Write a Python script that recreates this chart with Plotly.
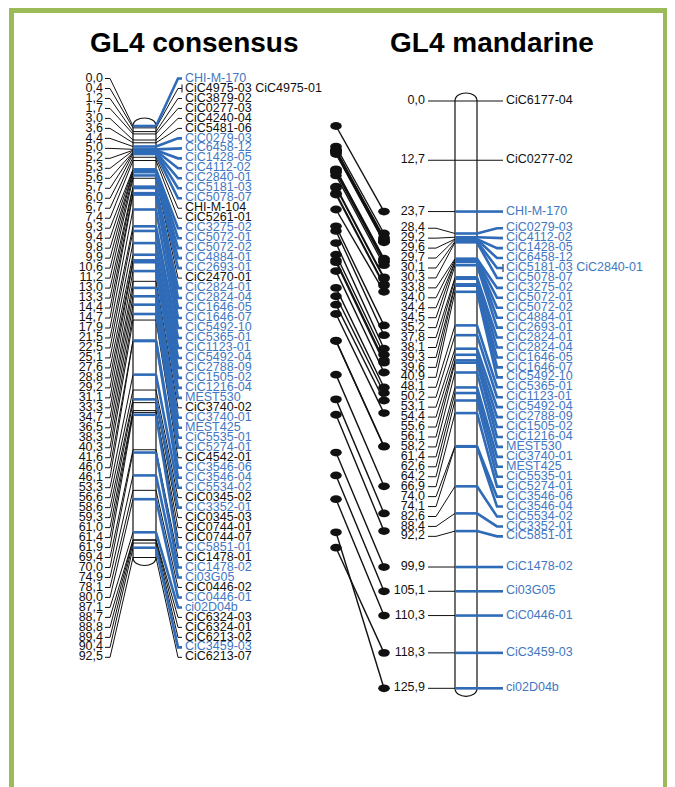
import plotly.graph_objects as go

# ---------------- data ----------------
cons_cm = [0.0, 0.4, 1.2, 1.7, 3.0, 3.6, 4.4, 5.0, 5.2, 5.3, 5.6, 5.7, 6.0, 6.7, 7.4,
           9.3, 9.4, 9.8, 9.9, 10.6, 11.2, 13.0, 13.3, 14.4, 14.7, 17.9, 21.5, 22.5,
           25.1, 27.6, 28.8, 29.2, 31.1, 33.3, 34.7, 36.5, 38.3, 40.3, 41.6, 46.0,
           46.1, 53.3, 56.6, 58.6, 59.3, 61.0, 61.4, 61.9, 69.4, 70.0, 74.9, 78.1,
           80.0, 87.1, 88.7, 88.8, 89.4, 90.4, 92.5]
cons_markers = ["CHI-M-170", "CiC4975-03 CiC4975-01", "CiC3879-02", "CiC0277-03",
                "CiC4240-04", "CiC5481-06", "CiC0279-03", "CiC6458-12", "CiC1428-05",
                "CiC4112-02", "CiC2840-01", "CiC5181-03", "CiC5078-07", "CHI-M-104",
                "CiC5261-01", "CiC3275-02", "CiC5072-01", "CiC5072-02", "CiC4884-01",
                "CiC2693-01", "CiC2470-01", "CiC2824-01", "CiC2824-04", "CiC1646-05",
                "CiC1646-07", "CiC5492-10", "CiC5365-01", "CiC1123-01", "CiC5492-04",
                "CiC2788-09", "CiC1505-02", "CiC1216-04", "MEST530", "CiC3740-02",
                "CiC3740-01", "MEST425", "CiC5535-01", "CiC5274-01", "CiC4542-01",
                "CiC3546-06", "CiC3546-04", "CiC5534-02", "CiC0345-02", "CiC3352-01",
                "CiC0345-03", "CiC0744-01", "CiC0744-07", "CiC5851-01", "CiC1478-01",
                "CiC1478-02", "Ci03G05", "CiC0446-02", "CiC0446-01", "ci02D04b",
                "CiC6324-03", "CiC6324-01", "CiC6213-02", "CiC3459-03", "CiC6213-07"]
mand_cm = [0.0, 12.7, 23.7, 28.4, 29.2, 29.6, 29.7, 30.1, 30.3, 33.8, 34.0, 34.4, 34.5,
           35.2, 37.8, 38.1, 39.3, 39.6, 40.9, 48.1, 50.2, 53.1, 54.4, 55.6, 56.1, 58.2,
           61.4, 62.6, 64.2, 66.9, 74.0, 74.1, 82.6, 88.4, 92.2, 99.9, 105.1, 110.3,
           118.3, 125.9]
mand_markers = ["CiC6177-04", "CiC0277-02", "CHI-M-170", "CiC0279-03", "CiC4112-02",
                "CiC1428-05", "CiC6458-12", "CiC5181-03 CiC2840-01", "CiC5078-07",
                "CiC3275-02", "CiC5072-01", "CiC5072-02", "CiC4884-01", "CiC2693-01",
                "CiC2824-01", "CiC2824-04", "CiC1646-05", "CiC1646-07", "CiC5492-10",
                "CiC5365-01", "CiC1123-01", "CiC5492-04", "CiC2788-09", "CiC1505-02",
                "CiC1216-04", "MEST530", "CiC3740-01", "MEST425", "CiC5535-01",
                "CiC5274-01", "CiC3546-06", "CiC3546-04", "CiC5534-02", "CiC3352-01",
                "CiC5851-01", "CiC1478-02", "Ci03G05", "CiC0446-01", "CiC3459-03",
                "ci02D04b"]
titles = ["GL4 consensus", "GL4 mandarine"]

# ---------------- layout constants (pixels) ----------------
W, H = 675, 787
PAGE = 8             # default page margin around the plot div
S = 4.665            # pixels per cM
MZ = 101.0           # pixel row of 0 cM on the mandarine map
CZ = 126.0           # pixel row of 0 cM on the consensus map
CONS_LABEL_TOP = 78.5
CONS_ROW = 9.98
MAND_ROW = 9.94

BLUE_TXT = "#4277C2"
BLUE_LN = "#2F6BB7"
BLACK = "#111111"
GREEN = "#9BBB59"
FONT = "Liberation Sans, Arial, sans-serif"
FS = 12.5

def ypx(px):
    return (px - MZ) / S

cons_off = (CZ - MZ) / S

# x positions
C_LTXT, C_LX0, C_LX1, C_L, C_R, C_RX1, C_RX0, C_RTXT = 103, 105, 110, 133, 156, 178, 182, 185
M_LTXT, M_LX0, M_LX1, M_L, M_R, M_RX1, M_RX0, M_RTXT = 425, 428, 436, 455, 477, 497, 503, 506
DOT_L, DOT_R = 336, 384

mand_names = set(n for m in mand_markers for n in m.split())
cons_names = set(n for m in cons_markers for n in m.split())
mand_pos = {}
for m, v in zip(mand_markers, mand_cm):
    for n in m.split():
        mand_pos[n] = v

def fmt(v):
    return f"{v:.1f}".replace(".", ",")

def spread(pos, gap):
    groups = [[0]]
    last = pos[0]
    for i in range(1, len(pos)):
        if pos[i] < last + gap:
            last = last + gap
            groups[-1].append(i)
        else:
            last = pos[i]
            groups.append([i])
    while True:
        starts = [(pos[g[0]] + pos[g[-1]]) / 2 - (len(g) - 1) / 2 * gap for g in groups]
        merged = False
        for k in range(len(groups) - 1):
            end = starts[k] + (len(groups[k]) - 1) * gap
            if starts[k + 1] < end + gap - 1e-9:
                groups[k] = groups[k] + groups[k + 1]
                del groups[k + 1]
                merged = True
                break
        if not merged:
            break
    out = [0.0] * len(pos)
    for g, s0 in zip(groups, starts):
        for j, i in enumerate(g):
            out[i] = s0 + j * gap
    return out

# positions on the shared axis
cons_y = [v + cons_off for v in cons_cm]
cons_ly = [ypx(CONS_LABEL_TOP + i * CONS_ROW) for i in range(len(cons_cm))]
mand_y = list(mand_cm)
mand_ly = spread(mand_cm, MAND_ROW / S)

cons_shared = [any(n in mand_names for n in m.split()) for m in cons_markers]
mand_shared = [any(n in cons_names for n in m.split()) for m in mand_markers]

fig = go.Figure()

def chrom_path(xl, xr, yt, yb):
    cap = 8.0 / S
    c = cap / 0.75
    return (f"M {xl},{yt} C {xl},{yt - c} {xr},{yt - c} {xr},{yt} "
            f"L {xr},{yb} C {xr},{yb + c} {xl},{yb + c} {xl},{yb} Z")

shapes = []
shapes.append(dict(type="path", path=chrom_path(C_L, C_R, cons_y[0], cons_y[-1]),
                   xref="x", yref="y", line=dict(color=BLACK, width=1.2),
                   fillcolor="white", layer="below"))
shapes.append(dict(type="path", path=chrom_path(M_L, M_R, mand_y[0], mand_y[-1]),
                   xref="x", yref="y", line=dict(color=BLACK, width=1.2),
                   fillcolor="white", layer="below"))
# frame
shapes.append(dict(type="rect", xref="x", yref="y", x0=11.5, x1=665.5,
                   y0=ypx(10.5), y1=ypx(830), line=dict(color=GREEN, width=5),
                   fillcolor="rgba(0,0,0,0)", layer="below"))

bx, by, ux, uy = [], [], [], []

def add(xs, ys, blue):
    if blue:
        ux.extend(xs + [None]); uy.extend(ys + [None])
    else:
        bx.extend(xs + [None]); by.extend(ys + [None])

for cy, ly, sh in zip(cons_y, cons_ly, cons_shared):
    add([C_LX0, C_LX1, C_L], [ly, ly, cy], False)
    add([C_L, C_R], [cy, cy], sh)
    add([C_R, C_RX1, C_RX0], [cy, ly, ly], sh)
for cy, ly, sh in zip(mand_y, mand_ly, mand_shared):
    add([M_LX0, M_LX1, M_L], [ly, ly, cy], False)
    add([M_L, M_R], [cy, cy], sh)
    add([M_R, M_RX1, M_RX0], [cy, ly, ly], sh)

tick = 4.0 / S
for ly, m in zip(cons_ly, cons_markers):
    if len(m.split()) > 1:
        add([C_RX0, C_RX0], [ly - tick, ly + tick], False)
for ly, m in zip(mand_ly, mand_markers):
    if len(m.split()) > 1:
        add([M_RX0, M_RX0], [ly - tick, ly + tick], False)

fig.add_trace(go.Scatter(x=bx, y=by, mode="lines", line=dict(color=BLACK, width=1),
                         hoverinfo="skip", showlegend=False))
fig.add_trace(go.Scatter(x=ux, y=uy, mode="lines", line=dict(color=BLUE_LN, width=2.6),
                         hoverinfo="skip", showlegend=False))

# comparison links between the two maps
lx, lyy, dxl, dyl = [], [], [], []
for m, cy, sh in zip(cons_markers, cons_y, cons_shared):
    if not sh:
        continue
    for n in m.split():
        if n in mand_pos:
            my = mand_pos[n]
            lx.extend([DOT_L, DOT_R, None]); lyy.extend([cy, my, None])
            dxl.extend([DOT_L, DOT_R]); dyl.extend([cy, my])
fig.add_trace(go.Scatter(x=lx, y=lyy, mode="lines", line=dict(color=BLACK, width=1.4),
                         hoverinfo="skip", showlegend=False))
eh = 3.9 / S
for x, y in zip(dxl, dyl):
    shapes.append(dict(type="circle", xref="x", yref="y", x0=x - 5.8, x1=x + 5.8,
                       y0=y - eh, y1=y + eh, fillcolor=BLACK, line=dict(width=0)))

def text_trace(xs, ys, txt, colors, pos):
    return go.Scatter(x=xs, y=ys, text=txt, mode="text", textposition=pos,
                      textfont=dict(family=FONT, size=FS, color=colors),
                      hoverinfo="skip", showlegend=False)

fig.add_trace(text_trace([C_LTXT] * len(cons_cm), cons_ly, [fmt(v) for v in cons_cm],
                         BLACK, "middle left"))
fig.add_trace(text_trace([C_RTXT] * len(cons_cm), cons_ly, cons_markers,
                         [BLUE_TXT if s else BLACK for s in cons_shared], "middle right"))
fig.add_trace(text_trace([M_LTXT] * len(mand_cm), mand_ly, [fmt(v) for v in mand_cm],
                         BLACK, "middle left"))
fig.add_trace(text_trace([M_RTXT] * len(mand_cm), mand_ly, mand_markers,
                         [BLUE_TXT if s else BLACK for s in mand_shared], "middle right"))

annotations = [
    dict(x=194, y=ypx(42), text=f"<b>{titles[0]}</b>", showarrow=False, xref="x", yref="y",
         font=dict(family=FONT, size=28, color="black"), xanchor="center", yanchor="middle"),
    dict(x=492, y=ypx(42), text=f"<b>{titles[1]}</b>", showarrow=False, xref="x", yref="y",
         font=dict(family=FONT, size=28, color="black"), xanchor="center", yanchor="middle"),
]

fig.update_layout(
    width=W, height=H, margin=dict(l=0, r=0, t=0, b=0),
    paper_bgcolor="white", plot_bgcolor="white",
    xaxis=dict(range=[PAGE, W + PAGE], visible=False, fixedrange=True),
    yaxis=dict(range=[ypx(H + PAGE), ypx(PAGE)], visible=False, fixedrange=True),
    shapes=shapes, annotations=annotations, showlegend=False,
)
fig.write_html("out.html")
